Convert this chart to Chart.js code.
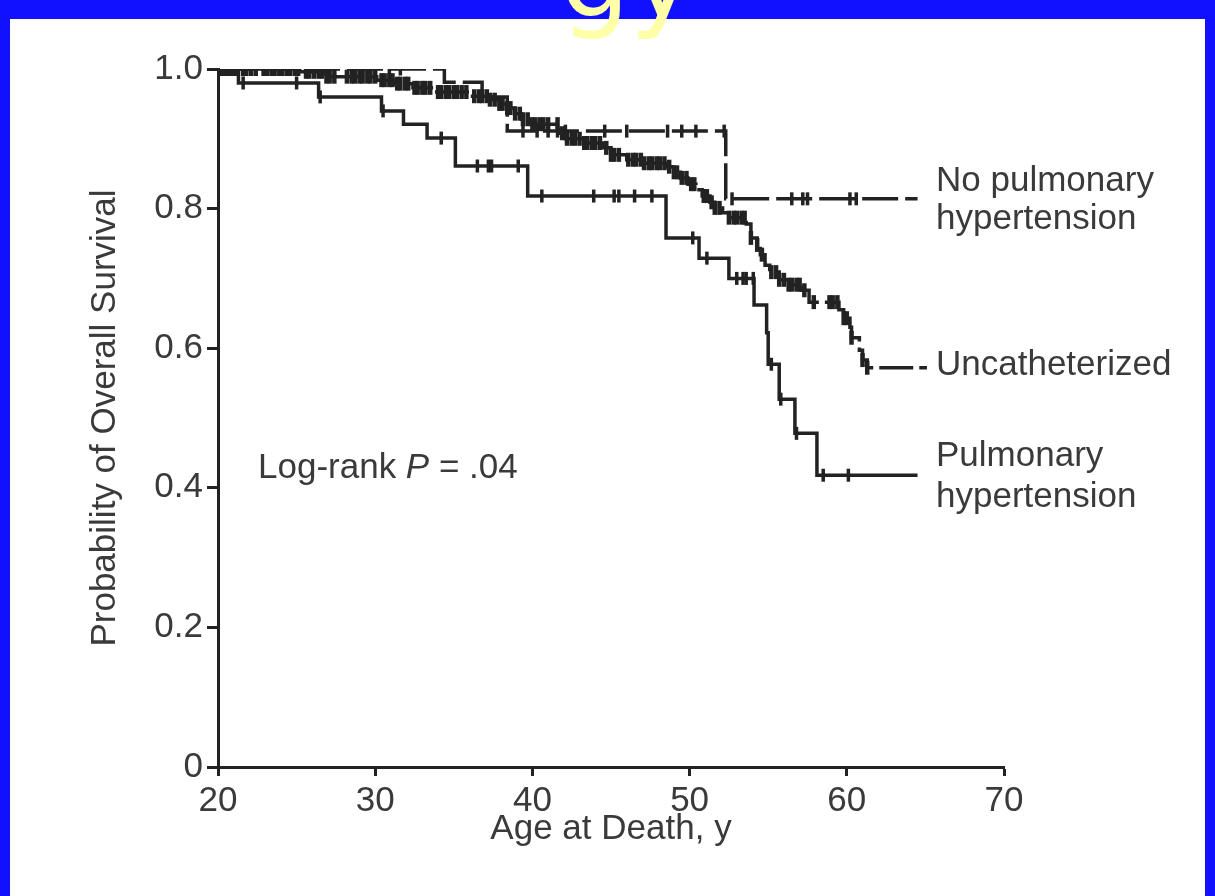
<!DOCTYPE html>
<html><head><meta charset="utf-8">
<script src="https://cdn.jsdelivr.net/npm/chart.js@4/dist/chart.umd.min.js"></script>
<style>html,body{margin:0;padding:0;background:#fff;overflow:hidden}canvas{display:block}</style>
</head><body>
<canvas id="c" width="1215" height="896"></canvas>
<script>
// ---- axis ticks ----
const xTicks = [20, 30, 40, 50, 60, 70];
const yTicks = [0, 0.2, 0.4, 0.6, 0.8, 1.0];

// ---- Pulmonary hypertension (solid) : age of each step, survival after the step ----
const phAges = [20, 21.3, 26.4, 30.4, 31.8, 33.3, 35.1, 39.7, 48.5, 50.6, 52.5, 54.1, 54.9, 55.0, 55.7, 56.7, 58.1, 64.5];
const phSurv = [1.0, 0.980, 0.960, 0.940, 0.921, 0.901, 0.861, 0.818, 0.758, 0.729, 0.700, 0.662, 0.622, 0.577, 0.527, 0.478, 0.418, 0.418];
const phCensor = [21.6, 25.0, 26.5, 30.5, 34.2, 36.5, 37.2, 37.4, 39.1, 40.6, 43.9, 45.2, 45.5, 46.5, 47.6, 50.2, 51.1, 53.0, 53.4, 53.6, 54.05, 55.2, 55.8, 56.8, 58.5, 60.1];

// ---- No pulmonary hypertension (dashed) ----
const noPhAges = [20, 34.4, 36.8, 38.4, 52.3, 64.5];
const noPhSurv = [1.0, 0.981, 0.960, 0.911, 0.814, 0.814];
const noPhCensor = [23.1, 23.5, 26.5, 30.9, 31.6, 39.4, 40.3, 41.0, 41.6, 42.1, 44.6, 46.0, 48.6, 49.5, 50.4, 52.2, 52.7, 56.5, 57.2, 57.5, 60.2, 60.6];

// ---- Uncatheterized (long dash) ----
const uncAges = [20, 25.2, 26.8, 30.1, 31.2, 32.4, 33.7, 36.0, 37.3, 37.9, 38.4, 38.9, 39.3, 39.8, 41.7, 42.1, 43.3, 44.5, 45.0, 46.0, 47.0, 48.5, 48.9, 49.4, 49.9, 50.4, 50.8, 51.3, 51.6, 52.1, 52.5, 53.6, 53.9, 54.3, 54.5, 54.8, 55.1, 55.7, 56.3, 57.1, 57.6, 59.5, 59.8, 60.2, 60.3, 60.8, 61.0, 61.3, 65.1];
const uncSurv = [1.0, 0.996, 0.989, 0.984, 0.979, 0.973, 0.967, 0.961, 0.956, 0.950, 0.944, 0.936, 0.928, 0.921, 0.908, 0.900, 0.894, 0.887, 0.877, 0.870, 0.865, 0.860, 0.852, 0.844, 0.835, 0.827, 0.818, 0.809, 0.801, 0.794, 0.787, 0.778, 0.758, 0.748, 0.734, 0.719, 0.709, 0.698, 0.691, 0.683, 0.666, 0.655, 0.643, 0.630, 0.615, 0.597, 0.583, 0.572, 0.572];
const uncCensor = [20.1, 20.3, 20.4, 20.6, 20.8, 21.0, 21.2, 21.6, 21.8, 22.1, 22.4, 22.9, 23.1, 23.4, 23.6, 23.9, 24.1, 24.4, 24.6, 24.9, 25.1, 25.6, 25.8, 26.1, 26.4, 26.6, 26.9, 27.1, 27.4, 28.2, 28.5, 28.7, 29.0, 29.2, 29.5, 29.7, 30.0, 30.4, 30.6, 30.9, 31.1, 31.4, 31.6, 31.9, 32.1, 32.5, 32.7, 33.0, 33.2, 33.5, 34.0, 34.2, 34.5, 34.7, 35.0, 35.2, 35.5, 35.8, 36.3, 36.6, 36.8, 37.1, 37.3, 37.6, 37.9, 38.1, 38.4, 38.6, 38.9, 39.2, 39.4, 39.7, 40.0, 40.2, 40.5, 40.7, 41.0, 41.6, 41.9, 42.2, 42.5, 42.7, 43.0, 43.3, 43.5, 43.8, 44.0, 44.3, 44.7, 45.0, 45.2, 45.5, 46.1, 46.4, 46.6, 46.9, 47.1, 47.4, 47.6, 47.9, 48.1, 48.4, 48.7, 49.0, 49.2, 49.5, 49.8, 50.1, 50.3, 50.9, 51.1, 51.4, 51.6, 51.9, 52.5, 52.8, 53.0, 53.3, 53.5, 53.9, 54.3, 54.6, 55.2, 55.5, 55.7, 56.0, 56.3, 56.5, 56.8, 57.0, 57.3, 57.9, 58.9, 59.1, 59.4, 59.8, 60.0, 60.3, 61.0, 61.3];

const curveLabels = ['No pulmonary hypertension', 'Uncatheterized', 'Pulmonary hypertension'];

// ---- helpers ----
function curvePoints(ages, surv) { return ages.map((a, i) => ({x: a, y: surv[i]})); }
function survAt(ages, surv, a) {
  let s = surv[0];
  for (let i = 0; i < ages.length; i++) { if (ages[i] <= a) s = surv[i]; }
  return s;
}
function censorPoints(ages, surv, cens) { return cens.map(a => ({x: a, y: survAt(ages, surv, a)})); }

const INK = '#222222';
const TXT = '#3a3a3a';
const FONT = "'Liberation Sans', Arial, sans-serif";

function curveDs(label, ages, surv, dash) {
  return { label, data: curvePoints(ages, surv), showLine: true, stepped: 'before',
    borderColor: INK, borderWidth: 3.5, borderDash: dash, pointRadius: 0, fill: false, order: 2 };
}
function censorDs(label, ages, surv, cens, r, w) {
  return { label: label + ' (censored)', data: censorPoints(ages, surv, cens), showLine: false,
    pointStyle: 'line', rotation: 90, pointRadius: r, pointBorderWidth: w,
    borderColor: INK, backgroundColor: INK, order: 1 };
}

const framePlugin = {
  id: 'frame',
  beforeDraw(chart) {
    const ctx = chart.ctx;
    ctx.save();
    ctx.fillStyle = '#1111FF';
    ctx.fillRect(0, 0, 1215, 896);
    ctx.fillStyle = '#FFFFFF';
    ctx.fillRect(10, 19, 1195, 877);
    ctx.fillStyle = '#FFFFA8';
    ctx.font = "110px 'DejaVu Sans'";
    ctx.textBaseline = 'alphabetic';
    ctx.fillText('gy', 560, 16);
    ctx.restore();
  },
  afterDraw(chart) {
    const ctx = chart.ctx;
    ctx.save();
    ctx.fillStyle = TXT;
    ctx.textBaseline = 'middle';
    ctx.textAlign = 'left';
    const f = "35px " + FONT;
    ctx.font = f;
    ctx.fillText('No pulmonary', 936, 181);
    ctx.fillText('hypertension', 936, 219);
    ctx.fillText('Uncatheterized', 936, 365);
    ctx.fillText('Pulmonary', 936, 456);
    ctx.fillText('hypertension', 936, 497);
    // Log-rank P = .04
    let x = 258; const y = 468;
    ctx.fillText('Log-rank ', x, y); x += ctx.measureText('Log-rank ').width;
    ctx.font = "italic 35px " + FONT;
    ctx.fillText('P', x, y); x += ctx.measureText('P').width;
    ctx.font = f;
    ctx.fillText(' = .04', x, y);
    ctx.restore();
  }
};

new Chart(document.getElementById('c'), {
  type: 'scatter',
  data: {
    datasets: [
      curveDs(curveLabels[0], noPhAges, noPhSurv, [36, 7]),
      curveDs(curveLabels[1], uncAges, uncSurv, [34, 6]),
      curveDs(curveLabels[2], phAges, phSurv, []),
      censorDs(curveLabels[0], noPhAges, noPhSurv, noPhCensor, 6.5, 3.5),
      censorDs(curveLabels[1], uncAges, uncSurv, uncCensor, 7, 4.5),
      censorDs(curveLabels[2], phAges, phSurv, phCensor, 6.5, 3.5)
    ]
  },
  options: {
    responsive: false, animation: false, devicePixelRatio: 1,
    layout: { padding: { left: 84, top: 69, right: 211, bottom: 46 } },
    plugins: { legend: { display: false }, tooltip: { enabled: false } },
    scales: {
      x: {
        type: 'linear', min: 20, max: 70,
        afterBuildTicks(s) { s.ticks = xTicks.map(v => ({value: v})); },
        afterFit(s) { s.height = 83; },
        grid: { drawOnChartArea: false, drawTicks: true, tickLength: 9, tickWidth: 3, tickColor: INK },
        border: { display: true, color: INK, width: 3 },
        ticks: { color: TXT, font: { family: FONT, size: 35 }, padding: 4, maxRotation: 0 },
        title: { display: true, text: 'Age at Death, y', color: TXT, font: { family: FONT, size: 35 }, padding: 0 }
      },
      y: {
        type: 'linear', min: 0, max: 1,
        afterBuildTicks(s) { s.ticks = yTicks.map(v => ({value: v})); },
        afterFit(s) { s.width = 134; },
        grid: { drawOnChartArea: false, drawTicks: true, tickLength: 11, tickWidth: 3, tickColor: INK },
        border: { display: true, color: INK, width: 3 },
        ticks: { color: TXT, font: { family: FONT, size: 35 }, padding: 4,
          callback: v => v === 0 ? '0' : v.toFixed(1) },
        title: { display: true, text: 'Probability of Overall Survival', color: TXT, font: { family: FONT, size: 35 }, padding: 0 }
      }
    }
  },
  plugins: [framePlugin]
});
</script>
</body></html>
